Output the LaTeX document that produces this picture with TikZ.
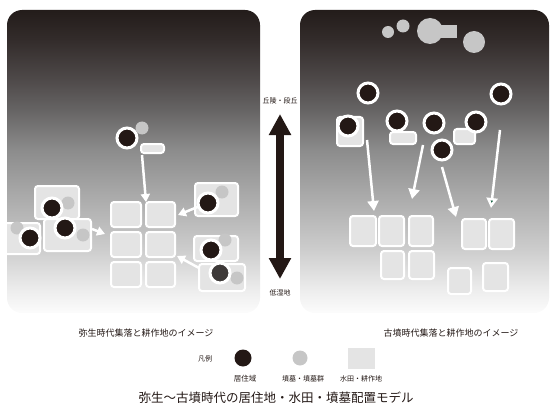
\documentclass[tikz,border=0pt]{standalone}
\usepackage{fontspec}
\setmainfont{Noto Sans CJK JP}
\usetikzlibrary{arrows.meta}
\definecolor{ink}{HTML}{231815}
\definecolor{tomb}{HTML}{C6C6C6}
\definecolor{fieldc}{HTML}{E4E4E4}
\definecolor{darkhouse}{HTML}{3E3A39}
\definecolor{tipgreen}{HTML}{0E5A3C}
\definecolor{pa}{HTML}{FCFCFC}
\definecolor{pb}{HTML}{EDEDED}
\definecolor{pc}{HTML}{CDCDCD}
\definecolor{pd}{HTML}{ADADAD}
\definecolor{pe}{HTML}{8C8C8C}
\definecolor{pf}{HTML}{666464}
\definecolor{pg}{HTML}{4F4A4A}
\definecolor{ph}{HTML}{332C2B}
\definecolor{pi}{HTML}{231C1A}
\pgfdeclareverticalshading{panelshade}{100bp}{color(0bp)=(pa); color(25bp)=(pa); color(28.8bp)=(pb); color(35.4bp)=(pc); color(43.6bp)=(pd); color(51.9bp)=(pe); color(58.5bp)=(pf); color(63.4bp)=(pg); color(70bp)=(ph); color(75bp)=(pi); color(100bp)=(pi)}
\tikzset{
  field/.style={rectangle, fill=fieldc, draw=white, line width=2pt, rounded corners=3pt, inner sep=0pt},
  house/.style={circle, fill=ink, draw=white, line width=3pt, minimum size=20pt, inner sep=0pt},
  tombc/.style={circle, fill=tomb, inner sep=0pt, minimum size=13pt},
  flow/.style={draw=white, line width=2.5pt, -{Triangle[width=9pt,length=8pt]}},
  lbl/.style={inner sep=0pt, text=ink}
}
\begin{document}
\begin{tikzpicture}[x=1pt,y=-1pt]
\useasboundingbox (0,0) rectangle (551,409);
% panels
\shade[shading=panelshade, rounded corners=15pt] (7,10) rectangle (260,313);
\shade[shading=panelshade, rounded corners=15pt] (300,10) rectangle (549,313);

% ---------- left panel ----------
\begin{scope}
\clip[rounded corners=15pt] (7,10) rectangle (260,313);
% fields grid
\node[field, minimum width=30pt, minimum height=25pt] (l11) at (126,214.5) {};
\node[field, minimum width=29pt, minimum height=25pt] (l12) at (160.5,214.5) {};
\node[field, minimum width=30pt, minimum height=25pt] (l21) at (126,244.5) {};
\node[field, minimum width=29pt, minimum height=25pt] (l22) at (160.5,244.5) {};
\node[field, minimum width=30pt, minimum height=25pt] (l31) at (126,274.5) {};
\node[field, minimum width=29pt, minimum height=25pt] (l32) at (160.5,274.5) {};
% settlement boxes
\node[field, minimum width=23pt, minimum height=9pt] (ltop) at (152.5,148.5) {};
\node[field, minimum width=44pt, minimum height=33pt] (la) at (57,202.5) {};
\node[field, minimum width=47pt, minimum height=32pt] (lb) at (67.5,235) {};
\node[field, minimum width=40pt, minimum height=31pt] (lc) at (20,238.5) {};
\node[field, minimum width=43pt, minimum height=33pt] (ld) at (216.5,199.5) {};
\node[field, minimum width=44pt, minimum height=25pt] (le) at (216,248.5) {};
\node[field, minimum width=46pt, minimum height=27pt] (lf) at (222,277.5) {};
% tombs
\node[tombc] (tt) at (142,128) {};
\node[tombc] (ta) at (68,203) {};
\node[tombc] (tb) at (83,235) {};
\node[tombc] (tc) at (17,228) {};
\node[tombc] (td) at (222,192) {};
\node[tombc] (te) at (225,240) {};
\node[tombc] (tf) at (237,278) {};
% houses
\node[house] (ht) at (127,138) {};
\node[house] (ha) at (52,208) {};
\node[house] (hb) at (65,228) {};
\node[house] (hc) at (30,238) {};
\node[house] (hd) at (208,203) {};
\node[house] (he) at (211,250) {};
\node[house, fill=darkhouse] (hf) at (220,273) {};
% flows
\coordinate (s1) at (142,155); \coordinate (e1) at (146,202);
\coordinate (s2) at (92,229);  \coordinate (e2) at (105,234);
\coordinate (s3) at (200,206); \coordinate (e3) at (178,215);
\coordinate (s4) at (199,268); \coordinate (e4) at (177,256);
\draw[flow] (s1) -- (e1);
\draw[flow] (s2) -- (e2);
\draw[flow] (s3) -- (e3);
\draw[flow] (s4) -- (e4);
\end{scope}

% ---------- right panel ----------
% tomb mounds at the top
\node[tombc, minimum size=12pt] (k1) at (388,32) {};
\node[tombc, minimum size=13pt] (k2) at (403,26) {};
\node[tombc, minimum size=26pt] (k3) at (430,31) {};
\fill[tomb] (430,25) rectangle (457,38);
\node[tombc, minimum size=22pt] (k4) at (474,42) {};
% fields
\node[field, minimum width=26pt, minimum height=30pt] (r11) at (363,231) {};
\node[field, minimum width=25pt, minimum height=30pt] (r12) at (391.5,231) {};
\node[field, minimum width=24pt, minimum height=30pt] (r13) at (421,231) {};
\node[field, minimum width=23pt, minimum height=28pt] (r22) at (392.5,265) {};
\node[field, minimum width=25pt, minimum height=28pt] (r23) at (421.5,265) {};
\node[field, minimum width=24pt, minimum height=30pt] (r14) at (474,234) {};
\node[field, minimum width=25pt, minimum height=30pt] (r15) at (501.5,234) {};
\node[field, minimum width=23pt, minimum height=26pt] (r31) at (459.5,281) {};
\node[field, minimum width=25pt, minimum height=28pt] (r32) at (495.5,277) {};
% settlement boxes
\node[field, minimum width=26pt, minimum height=29pt] (rb2) at (350,131.5) {};
\node[field, minimum width=26pt, minimum height=12pt] (rb3) at (403,138) {};
\node[field, minimum width=21pt, minimum height=15pt] (rb6) at (464.5,136.5) {};
% houses
\node[house] (r1) at (368,93) {};
\node[house] (r2) at (348,126) {};
\node[house] (r3) at (397,121) {};
\node[house] (r4) at (434,123) {};
\node[house] (r5) at (442,150) {};
\node[house] (r6) at (476,122) {};
\node[house] (r7) at (501,94) {};
% flows
\coordinate (ra) at (367,140); \coordinate (rae) at (374,211);
\coordinate (rb) at (423,145); \coordinate (rbe) at (412,199);
\coordinate (rc) at (442,167); \coordinate (rce) at (456,217);
\coordinate (rd) at (500,130); \coordinate (rde) at (491,208);
\draw[flow, -{Triangle[width=11pt,length=10pt]}] (ra) -- (rae);
\draw[flow, -{Triangle[width=11pt,length=10pt]}] (rb) -- (rbe);
\draw[flow, -{Triangle[width=11pt,length=10pt]}] (rc) -- (rce);
\draw[flow, -{Triangle[width=11pt,length=10pt,fill=tipgreen]}] (rd) -- (rde);

% ---------- elevation arrow ----------
\coordinate (up) at (280,114);
\coordinate (down) at (280,279);
\draw[ink, line width=8pt, {Triangle[width=21pt,length=21pt]}-{Triangle[width=21pt,length=21pt]}] (up) -- (down);
\node[lbl, font=\fontsize{7}{8}\selectfont] (hill) at (280,101) {丘陵・段丘};
\node[lbl, font=\fontsize{7}{8}\selectfont] (low) at (280,293) {低湿地};

% ---------- captions ----------
\node[lbl, font=\fontsize{9}{10}\selectfont] (capL) at (146,333) {弥生時代集落と耕作地のイメージ};
\node[lbl, font=\fontsize{9}{10}\selectfont] (capR) at (451,333) {古墳時代集落と耕作地のイメージ};

% ---------- legend ----------
\node[lbl, font=\fontsize{7}{8}\selectfont] (leg) at (205,359) {凡例};
\node[circle, fill=ink, minimum size=17pt, inner sep=0pt] (legH) at (243,358) {};
\node[circle, fill=tomb, minimum size=15pt, inner sep=0pt] (legT) at (300,358) {};
\node[rectangle, fill=fieldc, minimum width=27pt, minimum height=21pt, inner sep=0pt] (legF) at (361.5,358.5) {};
\node[lbl, font=\fontsize{7.5}{8}\selectfont] (legHt) at (245,379) {居住域};
\node[lbl, font=\fontsize{7}{8}\selectfont] (legTt) at (303,379) {墳墓・墳墓群};
\node[lbl, font=\fontsize{7}{8}\selectfont] (legFt) at (361,379) {水田・耕作地};

% ---------- title ----------
\node[lbl, font=\fontsize{12.5}{14}\selectfont] (title) at (276,398) {弥生～古墳時代の居住地・水田・墳墓配置モデル};
\end{tikzpicture}
\end{document}
